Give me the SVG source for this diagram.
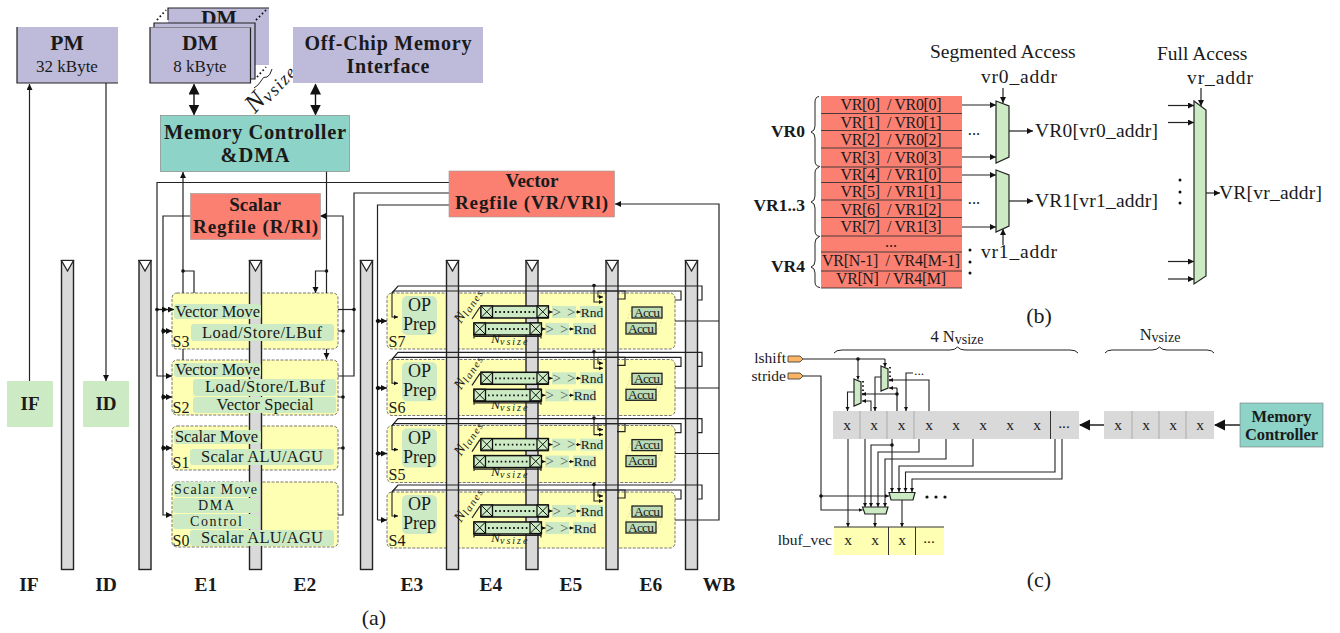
<svg xmlns="http://www.w3.org/2000/svg" xmlns:xlink="http://www.w3.org/1999/xlink" width="1340" height="633" viewBox="0 0 1340 633">
<style>
text{font-family:"Liberation Serif","Times New Roman",serif;fill:#1a1a1a;}
.b{font-weight:bold;}
.m{text-anchor:middle;}
.e{text-anchor:end;}
.l{fill:none;stroke:#222;stroke-width:1.2;}
.la{fill:none;stroke:#222;stroke-width:1.2;marker-end:url(#a);}
.ls{fill:none;stroke:#222;stroke-width:1.1;marker-end:url(#s);}
.lb{fill:none;stroke:#111;stroke-width:1.4;marker-start:url(#B);marker-end:url(#B);}
.big{fill:none;stroke:#111;stroke-width:1.4;marker-end:url(#B);}
.d{fill:#111;}
.pur{fill:#bebada;}
.teal{fill:#8dd3c7;stroke:#777;stroke-width:.6;}
.sal{fill:#fb8072;stroke:#999;stroke-width:.6;}
.gr{fill:#ccebc5;}
.bar{fill:#d9d9d9;stroke:#222;stroke-width:1.4;}
.tri{fill:#fff;stroke:#222;stroke-width:1.2;}
.st{fill:#ffffb3;stroke:#666;stroke-width:.9;stroke-dasharray:3 1.5;}
.t14{font-size:16px;}
.t15{font-size:16.5px;}
.t0{font-size:14px;}
.t18{font-size:18px;}
.t13{font-size:13.5px;}
.t19{font-size:19.5px;}
.h1{font-size:21.5px;}
.h2{font-size:20px;}
.h3{font-size:19px;}
.vt{font-size:16px;}
.cx{font-size:15.5px;}
.bl{font-size:19.5px;}
.ac{font-size:13.5px;}
.sh{font-size:15px;fill:#555;}
.reg{fill:#ccebc5;stroke:#111;stroke-width:1.5;}
.dot{fill:none;stroke:#111;stroke-width:1.8;stroke-dasharray:1.6 2.6;}
.acc{fill:#bcdcb5;stroke:#222;stroke-width:1.3;}
.ad{fill:none;stroke:#d6d69a;stroke-width:.8;stroke-dasharray:2 1.5;}
.mux{fill:#ccebc5;stroke:#222;stroke-width:1.2;}
.br{fill:none;stroke:#222;stroke-width:1;}
.cell{stroke:#999;stroke-width:.7;}
.cd{stroke:#333;stroke-width:1;}
.grey{fill:#d9d9d9;}
.row{stroke:#333;stroke-width:.9;}
.pin{fill:#fdb462;stroke:#444;stroke-width:.9;}
</style>
<defs>
<marker id="a" markerUnits="userSpaceOnUse" markerWidth="7" markerHeight="7" refX="6" refY="3" orient="auto"><path d="M0 0L6 3L0 6z" fill="#111"/></marker>
<marker id="s" markerUnits="userSpaceOnUse" markerWidth="5" markerHeight="5" refX="4" refY="2" orient="auto"><path d="M0 0L4 2L0 4z" fill="#111"/></marker>
<marker id="B" markerUnits="userSpaceOnUse" markerWidth="12" markerHeight="12" refX="10" refY="5.500" orient="auto-start-reverse"><path d="M0 0L11 5.500L0 11z" fill="#111"/></marker>
<g id="xb"><rect width="11.500" height="11.500" fill="#ccebc5" stroke="#111" stroke-width="1.300"/><path d="M0 0L11.500 11.500M11.500 0L0 11.500" stroke="#111" stroke-width="1" fill="none"/></g>
<g id="lane">
<rect class="gr" x="552" y="306" width="24" height="12"/><rect class="gr" x="545" y="323" width="24" height="12"/>
<rect class="gr" x="580" y="306" width="23" height="12"/><rect class="gr" x="573" y="323" width="23" height="12"/>
<rect class="reg" x="481" y="306" width="67" height="12"/><rect class="reg" x="474" y="323" width="67" height="12"/>
<use xlink:href="#xb" x="481" y="306"/><use xlink:href="#xb" x="537" y="306"/>
<use xlink:href="#xb" x="474" y="323"/><use xlink:href="#xb" x="530" y="323"/>
<path class="dot" d="M495 312H535M488 329H528"/>
<path class="l" d="M474 336.500H541M474 335V338.500M541 335V338.500"/>
<path class="ls" d="M548 312H552.500"/><path class="ls" d="M541 329H545.500"/>
<path class="ls" d="M576 312H580.500"/><path class="ls" d="M569 329H573.500"/>
<path class="ad" d="M632 307L626 323M662 307L656 323M662 318L656 334"/>
<rect class="acc" x="632" y="307" width="30" height="11"/><rect class="acc" x="626" y="323" width="30" height="11"/>
<path class="l" d="M472 319L480 307" stroke-width="1.600"/>
</g>
<g id="lanewires">
<path class="ls" d="M392 293V317H398"/>
<path class="l" d="M392 293L398 286H702V300H697"/>
<path class="l" d="M392 293L394 291H681V300H675"/>
<circle class="d" cx="594" cy="285.500" r="1.800"/>
<path class="ls" d="M594 285V302H603"/>
<path class="ls" d="M598 291V297H603"/>
<path class="l" d="M598 291H625V299H617"/>
</g>
</defs>

<rect width="1340" height="633" fill="#fff"/>

<g id="stage-backs">
<rect class="st" x="172" y="293" width="166" height="56" rx="5"/>
<rect class="st" x="172" y="360" width="166" height="55" rx="5"/>
<rect class="st" x="172" y="426" width="166" height="44" rx="5"/>
<rect class="st" x="172" y="482" width="166" height="65" rx="5"/>
<rect class="st" x="387" y="293" width="288" height="56" rx="5"/>
<rect class="st" x="387" y="359.500" width="288" height="56" rx="5"/>
<rect class="st" x="387" y="425.500" width="288" height="57" rx="5"/>
<rect class="st" x="387" y="492" width="288" height="56" rx="5"/>
</g>

<g id="pipeline-bars">
<rect class="bar" x="61.500" y="260.500" width="12" height="309"/><path class="tri" d="M61.500 260.500H73.500L67.500 271z"/>
<rect class="bar" x="139" y="260.500" width="12" height="309"/><path class="tri" d="M139 260.500H151L145 271z"/>
<rect class="bar" x="249.500" y="260.500" width="12" height="309"/><path class="tri" d="M249.500 260.500H261.500L255.500 271z"/>
<rect class="bar" x="360.500" y="260.500" width="12" height="309"/><path class="tri" d="M360.500 260.500H372.500L366.500 271z"/>
<rect class="bar" x="446.500" y="260.500" width="12" height="309"/><path class="tri" d="M446.500 260.500H458.500L452.500 271z"/>
<rect class="bar" x="526" y="260.500" width="12" height="309"/><path class="tri" d="M526 260.500H538L532 271z"/>
<rect class="bar" x="606" y="260.500" width="12" height="309"/><path class="tri" d="M606 260.500H618L612 271z"/>
<rect class="bar" x="685.500" y="260.500" width="12" height="309"/><path class="tri" d="M685.500 260.500H697.500L691.500 271z"/>
</g>

<g id="connectors">
<path class="la" d="M29.500 381V84"/>
<path class="la" d="M106 83V381"/>
<path class="lb" d="M194 84.500V114.500"/>
<path class="lb" d="M315.500 84.500V114.500"/>
<path class="la" d="M183 293V172"/><path class="l" d="M183 349V360"/>
<path class="l" d="M183 271H194V293"/>
<circle class="d" cx="183" cy="271" r="1.800"/>
<path class="l" d="M326.500 171V293"/>
<path class="la" d="M326.500 349V359"/>
<circle class="d" cx="326.500" cy="271" r="1.800"/>
<path class="la" d="M326.500 271H315.500V293"/>
<path class="la" d="M449 182.500H157V376H172"/>
<path class="la" d="M190 216H163V515H172"/>
<path class="la" d="M338 515H343V216H320"/>
<path class="l" d="M449 193H354V376H338"/>
<path class="l" d="M354 309.500H338"/>
<path class="la" d="M157 309.500H174"/><path class="la" d="M157 309.500H168"/>
<path class="la" d="M163 331H172"/><path class="la" d="M163 397H172"/><path class="la" d="M163 448H172"/>
<path class="la" d="M163 331H168"/><path class="la" d="M163 397H168"/><path class="la" d="M163 448H168"/>
<path class="l" d="M338 331H343M338 397H343M338 448H343"/>
<circle class="d" cx="157" cy="309.500" r="1.800"/><circle class="d" cx="354" cy="309.500" r="1.800"/>
<circle class="d" cx="163" cy="331" r="1.800"/><circle class="d" cx="163" cy="397" r="1.800"/><circle class="d" cx="163" cy="448" r="1.800"/>
<circle class="d" cx="343" cy="331" r="1.800"/><circle class="d" cx="343" cy="397" r="1.800"/><circle class="d" cx="343" cy="448" r="1.800"/>
<path class="l" d="M449 205H377.500V520"/>
<path class="la" d="M377.500 321H387"/><path class="la" d="M377.500 388H387"/><path class="la" d="M377.500 453.500H387"/><path class="la" d="M377.500 520H387"/>
<path class="la" d="M377.500 321H382.500"/><path class="la" d="M377.500 388H382.500"/><path class="la" d="M377.500 453.500H382.500"/>
<circle class="d" cx="377.500" cy="321" r="1.800"/><circle class="d" cx="377.500" cy="388" r="1.800"/><circle class="d" cx="377.500" cy="453.500" r="1.800"/>
<path class="la" d="M675 520H719V204H615"/>
<path class="l" d="M675 321H719M675 388H719M675 453.500H719"/>
<use xlink:href="#lanewires"/>
<use xlink:href="#lanewires" y="66.300"/>
<use xlink:href="#lanewires" y="132.600"/>
<use xlink:href="#lanewires" y="199"/>

<path class="la" d="M962 105H996"/><path class="la" d="M962 157H996"/><path class="la" d="M962 175H996"/><path class="la" d="M962 227H996"/>
<path class="la" d="M1009 131H1033"/><path class="la" d="M1009 201H1033"/>
<path class="la" d="M1003 88V103"/><path class="la" d="M1003 245V229"/>
<path class="la" d="M1201 88V106"/>
<path class="la" d="M1168 105.500H1194"/><path class="la" d="M1168 122.500H1194"/><path class="la" d="M1168 261.500H1194"/><path class="la" d="M1168 279H1194"/>
<path class="la" d="M1206 193H1220"/>

<path class="l" d="M803 359H885"/><path class="ls" d="M885 359V367"/><path class="ls" d="M858 359V379.500"/>
<circle class="d" cx="858" cy="359" r="1.800"/>
<path class="ls" d="M803 376H821V510H862.500"/>
<path class="ls" d="M821 496H889"/><circle class="d" cx="821" cy="496" r="1.800"/>
<path class="ls" d="M854 392H847.500V411"/>
<path class="ls" d="M897 394H862"/><path class="ls" d="M871 411V401H862"/>
<path class="ls" d="M881 377H875V411"/>
<path class="ls" d="M929 411V380H889"/><path class="l" d="M897 411V388"/><path class="ls" d="M897 388H889"/>
<circle class="d" cx="897" cy="394" r="1.800"/>
<path class="ls" d="M913 373H906V411"/>
<path class="ls" d="M848 439V527"/>
<path class="ls" d="M865 439V507"/>
<path class="ls" d="M892 445H871V507"/>
<path class="ls" d="M919 439V452H878V507"/>
<path class="ls" d="M946 439V459H885V507"/>
<path class="ls" d="M892 439V492"/><circle class="d" cx="892" cy="445" r="1.800"/>
<path class="ls" d="M973 439V466H899V492"/>
<path class="ls" d="M1055 439V472H905.500V492"/>
<path class="ls" d="M1062 439V479H912V492"/>
<path class="ls" d="M875 514V527"/><path class="ls" d="M902 500V527"/>
<path class="big" d="M1240 425H1215"/><path class="big" d="M1104 425H1080"/>
</g>

<g id="PM"><rect class="pur" x="17" y="27" width="101" height="56"/><path class="l" d="M17 27V83H118"/>
<text class="b m h1" x="67" y="50">PM</text><text class="m" font-size="17" fill="#333" x="67" y="72">32 kByte</text></g>

<g id="DM">
<path d="M168 8H269V65H255V79H250V27H168z" class="pur"/><path class="l" d="M168 20V8H269"/>
<text class="b m h1" x="219" y="25">DM</text>
<path class="pur" d="M154 27V23H255V79H250V27z"/><path class="l" d="M154 27V23H255V79H250"/>
<rect class="pur" x="150" y="27" width="101" height="56"/><path class="l" d="M150 27V83H250.500V27"/>
<rect x="150" y="27" width="101" height="0.800" fill="#777"/>
<text class="b m h1" x="200" y="50">DM</text><text class="m" font-size="17" fill="#333" x="200" y="72">8 kByte</text>
<path class="dot" d="M157 20L166 10M256 20L266 10M257 77L266 67" stroke-width="1.600"/>
</g>
<g id="nvsize-label">
<path class="br" d="M254 88Q259 85 261 81Q263 76 267 77Q270 76 272 69"/>
<text transform="translate(255 114) rotate(-47)" font-size="26" font-style="italic">N<tspan font-size="18" dy="3" letter-spacing="1.500">vsize</tspan></text>
</g>
<g id="OffChip"><rect class="pur" x="293" y="27" width="190" height="56"/>
<text class="b m h2" x="388" y="50" textLength="167">Off-Chip Memory</text><text class="b m h2" x="388" y="73" textLength="83">Interface</text></g>
<g id="MemCtrl"><rect class="teal" x="160.500" y="115.500" width="189" height="56"/>
<text class="b m" font-size="20.500" x="255" y="139" textLength="182">Memory Controller</text><text class="b m" font-size="20.500" x="255" y="162" textLength="69">&amp;DMA</text></g>
<g id="ScalarRF"><rect class="sal" x="190.500" y="193.500" width="130" height="46"/>
<text class="b m h3" x="255" y="211">Scalar</text><text class="b m h3" x="255.500" y="233" textLength="125">Regfile (R/Rl)</text></g>
<g id="VectorRF"><rect class="sal" x="449" y="171" width="165.500" height="46"/>
<text class="b m h3" x="532" y="187">Vector</text><text class="b m h3" x="531.500" y="209" textLength="153">Regfile (VR/VRl)</text></g>
<g id="IF"><rect class="gr" x="7" y="381" width="46" height="46"/><text class="b m h3" x="30" y="410">IF</text></g>
<g id="ID"><rect class="gr" x="83" y="381" width="46" height="46"/><text class="b m h3" x="106" y="410">ID</text></g>

<g id="S3">
<rect class="gr" x="174" y="304" width="87" height="15" rx="3"/><rect class="gr" x="191" y="324" width="143" height="17" rx="3"/>
<text class="t15" x="175" y="317" textLength="85">Vector Move</text><text class="t15 m" x="262" y="338" textLength="120">Load/Store/LBuf</text>
<text class="t14" x="172.500" y="347">S3</text></g>
<g id="S2">
<rect class="gr" x="174" y="363" width="87" height="14" rx="3"/><rect class="gr" x="193" y="379" width="143" height="17" rx="3"/><rect class="gr" x="193" y="397" width="143" height="16" rx="3"/>
<text class="t15" x="175" y="375" textLength="85">Vector Move</text><text class="t15 m" x="265" y="392" textLength="120">Load/Store/LBuf</text><text class="t15 m" x="265" y="410" textLength="97">Vector Special</text>
<text class="t14" x="172.500" y="413">S2</text></g>
<g id="S1">
<rect class="gr" x="174" y="430" width="87" height="14" rx="3"/><rect class="gr" x="190" y="449" width="144" height="16" rx="3"/>
<text class="t15" x="175" y="442" textLength="83">Scalar Move</text><text class="t15 m" x="262" y="462" textLength="122">Scalar ALU/AGU</text>
<text class="t14" x="172.500" y="468">S1</text></g>
<g id="S0">
<rect class="gr" x="174" y="482" width="85" height="15" rx="3"/><rect class="gr" x="173" y="498" width="86" height="15" rx="3"/><rect class="gr" x="173" y="514" width="86" height="15" rx="3"/><rect class="gr" x="190" y="530" width="144" height="16" rx="3"/>
<text class="t0" x="174" y="494" textLength="83">Scalar Move</text><text class="t0 m" x="216" y="510" textLength="36">DMA</text><text class="t0 m" x="216" y="526" textLength="52">Control</text><text class="t15 m" x="262" y="543" textLength="122">Scalar ALU/AGU</text>
<text class="t14" x="172.500" y="546">S0</text></g>

<g id="S7"><rect class="gr" x="402" y="296" width="35" height="39" rx="5"/><use xlink:href="#lane"/>
<text class="t18 m" x="419.500" y="311">OP</text><text class="t18 m" x="419.500" y="330">Prep</text><text class="t14" x="388.500" y="347">S7</text>
<text class="t13" x="491" y="343" font-style="italic" fill="#333">N<tspan font-size="10" dy="2" letter-spacing="2">vsize</tspan></text>
<text transform="translate(461 324) rotate(-57)" font-size="14.500" font-style="italic" fill="#333">N<tspan font-size="10.500" dy="2" letter-spacing="1.500">lanes</tspan></text>
<text class="m t13" x="592" y="316.500">Rnd</text><text class="m t13" x="585" y="333.500">Rnd</text>
<text class="m sh" x="564" y="316.500" textLength="23">&gt;&gt;</text><text class="m sh" x="557" y="333.500" textLength="23">&gt;&gt;</text>
<text class="m ac" x="647" y="316.500" textLength="26">Accu</text><text class="m ac" x="641" y="332.500" textLength="26">Accu</text></g>

<g id="S6" transform="translate(0 66.300)"><rect class="gr" x="402" y="296" width="35" height="39" rx="5"/><use xlink:href="#lane"/>
<text class="t18 m" x="419.500" y="311">OP</text><text class="t18 m" x="419.500" y="330">Prep</text><text class="t14" x="388.500" y="347">S6</text>
<text class="t13" x="491" y="343" font-style="italic" fill="#333">N<tspan font-size="10" dy="2" letter-spacing="2">vsize</tspan></text>
<text transform="translate(461 324) rotate(-57)" font-size="14.500" font-style="italic" fill="#333">N<tspan font-size="10.500" dy="2" letter-spacing="1.500">lanes</tspan></text>
<text class="m t13" x="592" y="316.500">Rnd</text><text class="m t13" x="585" y="333.500">Rnd</text>
<text class="m sh" x="564" y="316.500" textLength="23">&gt;&gt;</text><text class="m sh" x="557" y="333.500" textLength="23">&gt;&gt;</text>
<text class="m ac" x="647" y="316.500" textLength="26">Accu</text><text class="m ac" x="641" y="332.500" textLength="26">Accu</text></g>

<g id="S5" transform="translate(0 132.600)"><rect class="gr" x="402" y="296" width="35" height="39" rx="5"/><use xlink:href="#lane"/>
<text class="t18 m" x="419.500" y="311">OP</text><text class="t18 m" x="419.500" y="330">Prep</text><text class="t14" x="388.500" y="347">S5</text>
<text class="t13" x="491" y="343" font-style="italic" fill="#333">N<tspan font-size="10" dy="2" letter-spacing="2">vsize</tspan></text>
<text transform="translate(461 324) rotate(-57)" font-size="14.500" font-style="italic" fill="#333">N<tspan font-size="10.500" dy="2" letter-spacing="1.500">lanes</tspan></text>
<text class="m t13" x="592" y="316.500">Rnd</text><text class="m t13" x="585" y="333.500">Rnd</text>
<text class="m sh" x="564" y="316.500" textLength="23">&gt;&gt;</text><text class="m sh" x="557" y="333.500" textLength="23">&gt;&gt;</text>
<text class="m ac" x="647" y="316.500" textLength="26">Accu</text><text class="m ac" x="641" y="332.500" textLength="26">Accu</text></g>

<g id="S4" transform="translate(0 199)"><rect class="gr" x="402" y="296" width="35" height="39" rx="5"/><use xlink:href="#lane"/>
<text class="t18 m" x="419.500" y="311">OP</text><text class="t18 m" x="419.500" y="330">Prep</text><text class="t14" x="388.500" y="347">S4</text>
<text class="t13" x="491" y="343" font-style="italic" fill="#333">N<tspan font-size="10" dy="2" letter-spacing="2">vsize</tspan></text>
<text transform="translate(461 324) rotate(-57)" font-size="14.500" font-style="italic" fill="#333">N<tspan font-size="10.500" dy="2" letter-spacing="1.500">lanes</tspan></text>
<text class="m t13" x="592" y="316.500">Rnd</text><text class="m t13" x="585" y="333.500">Rnd</text>
<text class="m sh" x="564" y="316.500" textLength="23">&gt;&gt;</text><text class="m sh" x="557" y="333.500" textLength="23">&gt;&gt;</text>
<text class="m ac" x="647" y="316.500" textLength="26">Accu</text><text class="m ac" x="641" y="332.500" textLength="26">Accu</text></g>

<g id="stage-labels">
<text class="b m bl" x="29" y="591">IF</text><text class="b m bl" x="106" y="591">ID</text><text class="b m bl" x="206" y="591">E1</text><text class="b m bl" x="305" y="591">E2</text><text class="b m bl" x="412" y="591">E3</text><text class="b m bl" x="491" y="591">E4</text><text class="b m bl" x="571" y="591">E5</text><text class="b m bl" x="651" y="591">E6</text><text class="b m bl" x="719" y="591">WB</text>
<text class="m" font-size="22" x="374" y="625">(a)</text>
</g>

<g id="VRtable">
<rect fill="#fb8072" x="821" y="96" width="141" height="192"/>
<path class="row" d="M821 113.500H962M821 130.500H962M821 148H962M821 167H962M821 182.500H962M821 200H962M821 217.500H962M821 236H962M821 252H962M821 271H962M821 288H962" fill="none"/>
<text class="m vt" x="891" y="110" textLength="101">VR[0] &#160;/ VR0[0]</text><text class="m vt" x="891" y="127.500" textLength="101">VR[1] &#160;/ VR0[1]</text><text class="m vt" x="891" y="145" textLength="101">VR[2] &#160;/ VR0[2]</text><text class="m vt" x="891" y="163" textLength="101">VR[3] &#160;/ VR0[3]</text>
<text class="m vt" x="891" y="180" textLength="101">VR[4] &#160;/ VR1[0]</text><text class="m vt" x="891" y="197" textLength="101">VR[5] &#160;/ VR1[1]</text><text class="m vt" x="891" y="214.500" textLength="101">VR[6] &#160;/ VR1[2]</text><text class="m vt" x="891" y="232" textLength="101">VR[7] &#160;/ VR1[3]</text>
<text class="m vt" x="891" y="247">...</text><text class="m vt" x="891" y="266" textLength="138">VR[N-1] &#160;/ VR4[M-1]</text><text class="m vt" x="891" y="284" textLength="110">VR[N] &#160;/ VR4[M]</text>
</g>
<g id="VRbraces">
<path class="br" d="M819 96.500Q815 97 815 102V126Q815 131 811 132Q815 133 815 138V161Q815 166 820 166.500"/>
<path class="br" d="M819 167.500Q815 168 815 173V196Q815 201 811 202Q815 203 815 208V231Q815 236 820 236.500"/>
<path class="br" d="M819 237Q815 238 815 243V261Q815 266 811 267Q815 268 815 273V282Q815 287 820 287.500"/>
<text class="b e" font-size="17.500" x="805" y="137">VR0</text><text class="b e" font-size="17.500" x="805" y="211">VR1..3</text><text class="b e" font-size="17.500" x="805" y="272">VR4</text>
</g>
<g id="mux-seg0"><path class="mux" d="M996 101L1009 106V157L996 163z"/></g>
<g id="mux-seg1"><path class="mux" d="M996 170L1009 175V226L996 232z"/></g>
<g id="mux-full"><path class="mux" d="M1194 101L1206 110V276L1194 284z"/></g>
<g id="b-labels">
<text class="t19" x="930" y="58">Segmented Access</text>
<text class="t19" x="981" y="83" textLength="76">vr0_addr</text><text class="t19" x="981" y="258" textLength="76">vr1_addr</text>
<text class="t19" x="1035" y="137" textLength="123">VR0[vr0_addr]</text><text class="t19" x="1035" y="207" textLength="123">VR1[vr1_addr]</text>
<text class="t15 m" x="974" y="135">...</text><text class="t15 m" x="974" y="204">...</text>
<circle class="d" cx="970" cy="250" r="1.500"/><circle class="d" cx="970" cy="262" r="1.500"/><circle class="d" cx="970" cy="273" r="1.500"/>
<text class="t19" x="1157" y="60">Full Access</text><text class="t19" x="1187" y="84" textLength="66">vr_addr</text>
<text class="t19" x="1219" y="199" textLength="103">VR[vr_addr]</text>
<circle class="d" cx="1180" cy="180" r="1.500"/><circle class="d" cx="1180" cy="192" r="1.500"/><circle class="d" cx="1180" cy="203" r="1.500"/>
<text class="m" font-size="22" x="1039" y="323">(b)</text>
</g>

<g id="lshift"><text class="e cx" x="786" y="363">lshift</text><path class="pin" d="M788 356H800L803 359L800 362H788z"/></g>
<g id="stride"><text class="e cx" x="786" y="381">stride</text><path class="pin" d="M788 373H800L803 376L800 379H788z"/></g>
<g id="vecbuf">
<rect class="grey" x="833" y="411" width="246" height="28"/>
<path class="cell" d="M860 411V439M887 411V439M914 411V439"/><path class="cd" d="M1050.500 411V439"/>
<text class="m cx" x="847" y="430">x</text><text class="m cx" x="874" y="430">x</text><text class="m cx" x="901.500" y="430">x</text><text class="m cx" x="929" y="430">x</text><text class="m cx" x="956" y="430">x</text><text class="m cx" x="983" y="430">x</text><text class="m cx" x="1010" y="430">x</text><text class="m cx" x="1037" y="430">x</text><text class="m cx" x="1064" y="428">...</text>
</g>
<g id="vecin">
<rect class="grey" x="1104" y="411" width="110" height="28"/>
<path class="cell" d="M1132 411V439M1159 411V439M1186 411V439"/>
<text class="m cx" x="1118" y="430">x</text><text class="m cx" x="1146" y="430">x</text><text class="m cx" x="1173" y="430">x</text><text class="m cx" x="1200" y="430">x</text>
</g>
<g id="MemCtrl2"><rect class="teal" x="1240" y="403" width="83" height="44"/><text class="b m" font-size="16.500" x="1281.500" y="422" textLength="60">Memory</text><text class="b m" font-size="16.500" x="1281.500" y="440" textLength="73">Controller</text></g>
<g id="lbuf">
<text class="e cx" x="832" y="545">lbuf_vec</text>
<rect x="834" y="527" width="110" height="28" fill="#ffffb3"/>
<path class="cd" d="M834 527H944M888.500 527V555M915.500 527V555" fill="none"/>
<text class="m cx" x="848" y="545">x</text><text class="m cx" x="875" y="545">x</text><text class="m cx" x="902" y="545">x</text><text class="m cx" x="929" y="543">...</text>
</g>
<g id="small-muxes">
<path class="mux" d="M854 379L861 382V403L854 406z"/><path class="mux" d="M881 366L888 369V388L881 391z"/>
<path class="mux" d="M862.500 507H888L886 514H865z"/><path class="mux" d="M889 492.500H915L913 500H891z"/>
<path class="dot" d="M863 381V396M890 367V382" stroke-width="1.100"/>
<text class="t13" x="914" y="375">...</text>
<circle class="d" cx="927" cy="497" r="1.600"/><circle class="d" cx="936" cy="497" r="1.600"/><circle class="d" cx="945" cy="497" r="1.600"/>
</g>
<g id="c-labels">
<path class="br" d="M834 353Q836 350 842 350H950Q955 350 957.500 347Q960 350 965 350H1070Q1076 350 1078 353"/>
<path class="br" d="M1105 353Q1107 350 1112 350H1152Q1157 350 1159.500 347Q1162 350 1167 350H1207Q1212 350 1214 353"/>
<text class="m" font-size="16.500" x="957" y="342">4 N<tspan font-size="14" dy="2">vsize</tspan></text>
<text class="m" font-size="16.500" x="1160" y="340">N<tspan font-size="14" dy="2">vsize</tspan></text>
<text class="m" font-size="22" x="1039" y="587">(c)</text>
</g>
</svg>
